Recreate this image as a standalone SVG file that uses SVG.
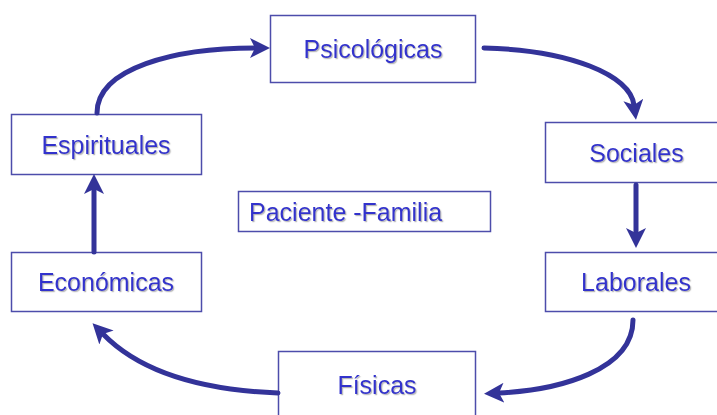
<svg xmlns="http://www.w3.org/2000/svg" width="717" height="415" viewBox="0 0 717 415">
  <style>
    .box { fill: #ffffff; stroke: #4d4dab; stroke-width: 1.5; }
    .lbl { font-family: "Liberation Sans", Arial, sans-serif; font-size: 25px; fill: #3333cc; filter: url(#sh); }
    .c { text-anchor: middle; }
    .conn { fill: none; stroke: #333399; stroke-width: 5; stroke-linecap: round; }
  </style>
  <defs>
    <filter id="sh" x="-10%" y="-20%" width="120%" height="150%">
      <feDropShadow dx="1.2" dy="1.2" stdDeviation="0.4" flood-color="#9a9a9a" flood-opacity="0.7"/>
    </filter>
    <marker id="ah" markerUnits="userSpaceOnUse" viewBox="0 0 20 20" refX="5" refY="10" markerWidth="20" markerHeight="20" orient="auto">
      <path d="M0,0 L20,10 L0,20 L5,10 Z" fill="#333399"/>
    </marker>
  </defs>
  <rect width="717" height="415" fill="#ffffff"/>

  <g id="psicologicas">
    <rect class="box" x="270.5" y="15.5" width="205" height="67"/>
    <text class="lbl c" x="373" y="58">Psicológicas</text>
  </g>
  <g id="espirituales">
    <rect class="box" x="11.5" y="114.5" width="190" height="60"/>
    <text class="lbl c" x="106" y="154">Espirituales</text>
  </g>
  <g id="sociales">
    <rect class="box" x="545.5" y="122.5" width="185" height="60"/>
    <text class="lbl c" x="636.5" y="162">Sociales</text>
  </g>
  <g id="paciente-familia">
    <rect class="box" x="238.5" y="191.5" width="252" height="40"/>
    <text class="lbl" x="249" y="221">Paciente -Familia</text>
  </g>
  <g id="economicas">
    <rect class="box" x="11.5" y="252.5" width="190" height="59"/>
    <text class="lbl c" x="106" y="291">Económicas</text>
  </g>
  <g id="laborales">
    <rect class="box" x="545.5" y="252.5" width="185" height="59"/>
    <text class="lbl c" x="636" y="291">Laborales</text>
  </g>
  <g id="fisicas">
    <rect class="box" x="278.5" y="351.5" width="197" height="80"/>
    <text class="lbl c" x="377" y="394">Físicas</text>
  </g>

  <g id="connectors">
    <path class="conn" marker-end="url(#ah)" d="M97,113 C97,68 175,48 255,48"/>
    <path class="conn" marker-end="url(#ah)" d="M484,48 C570,50 630,75 634,105"/>
    <path class="conn" marker-end="url(#ah)" d="M636,185 L636,233"/>
    <path class="conn" marker-end="url(#ah)" d="M633,320 C633,370 560,390 499,393"/>
    <path class="conn" marker-end="url(#ah)" d="M278,393 C200,390 140,372 103,334"/>
    <path class="conn" marker-end="url(#ah)" d="M94,252 L94,189"/>
  </g>
</svg>
